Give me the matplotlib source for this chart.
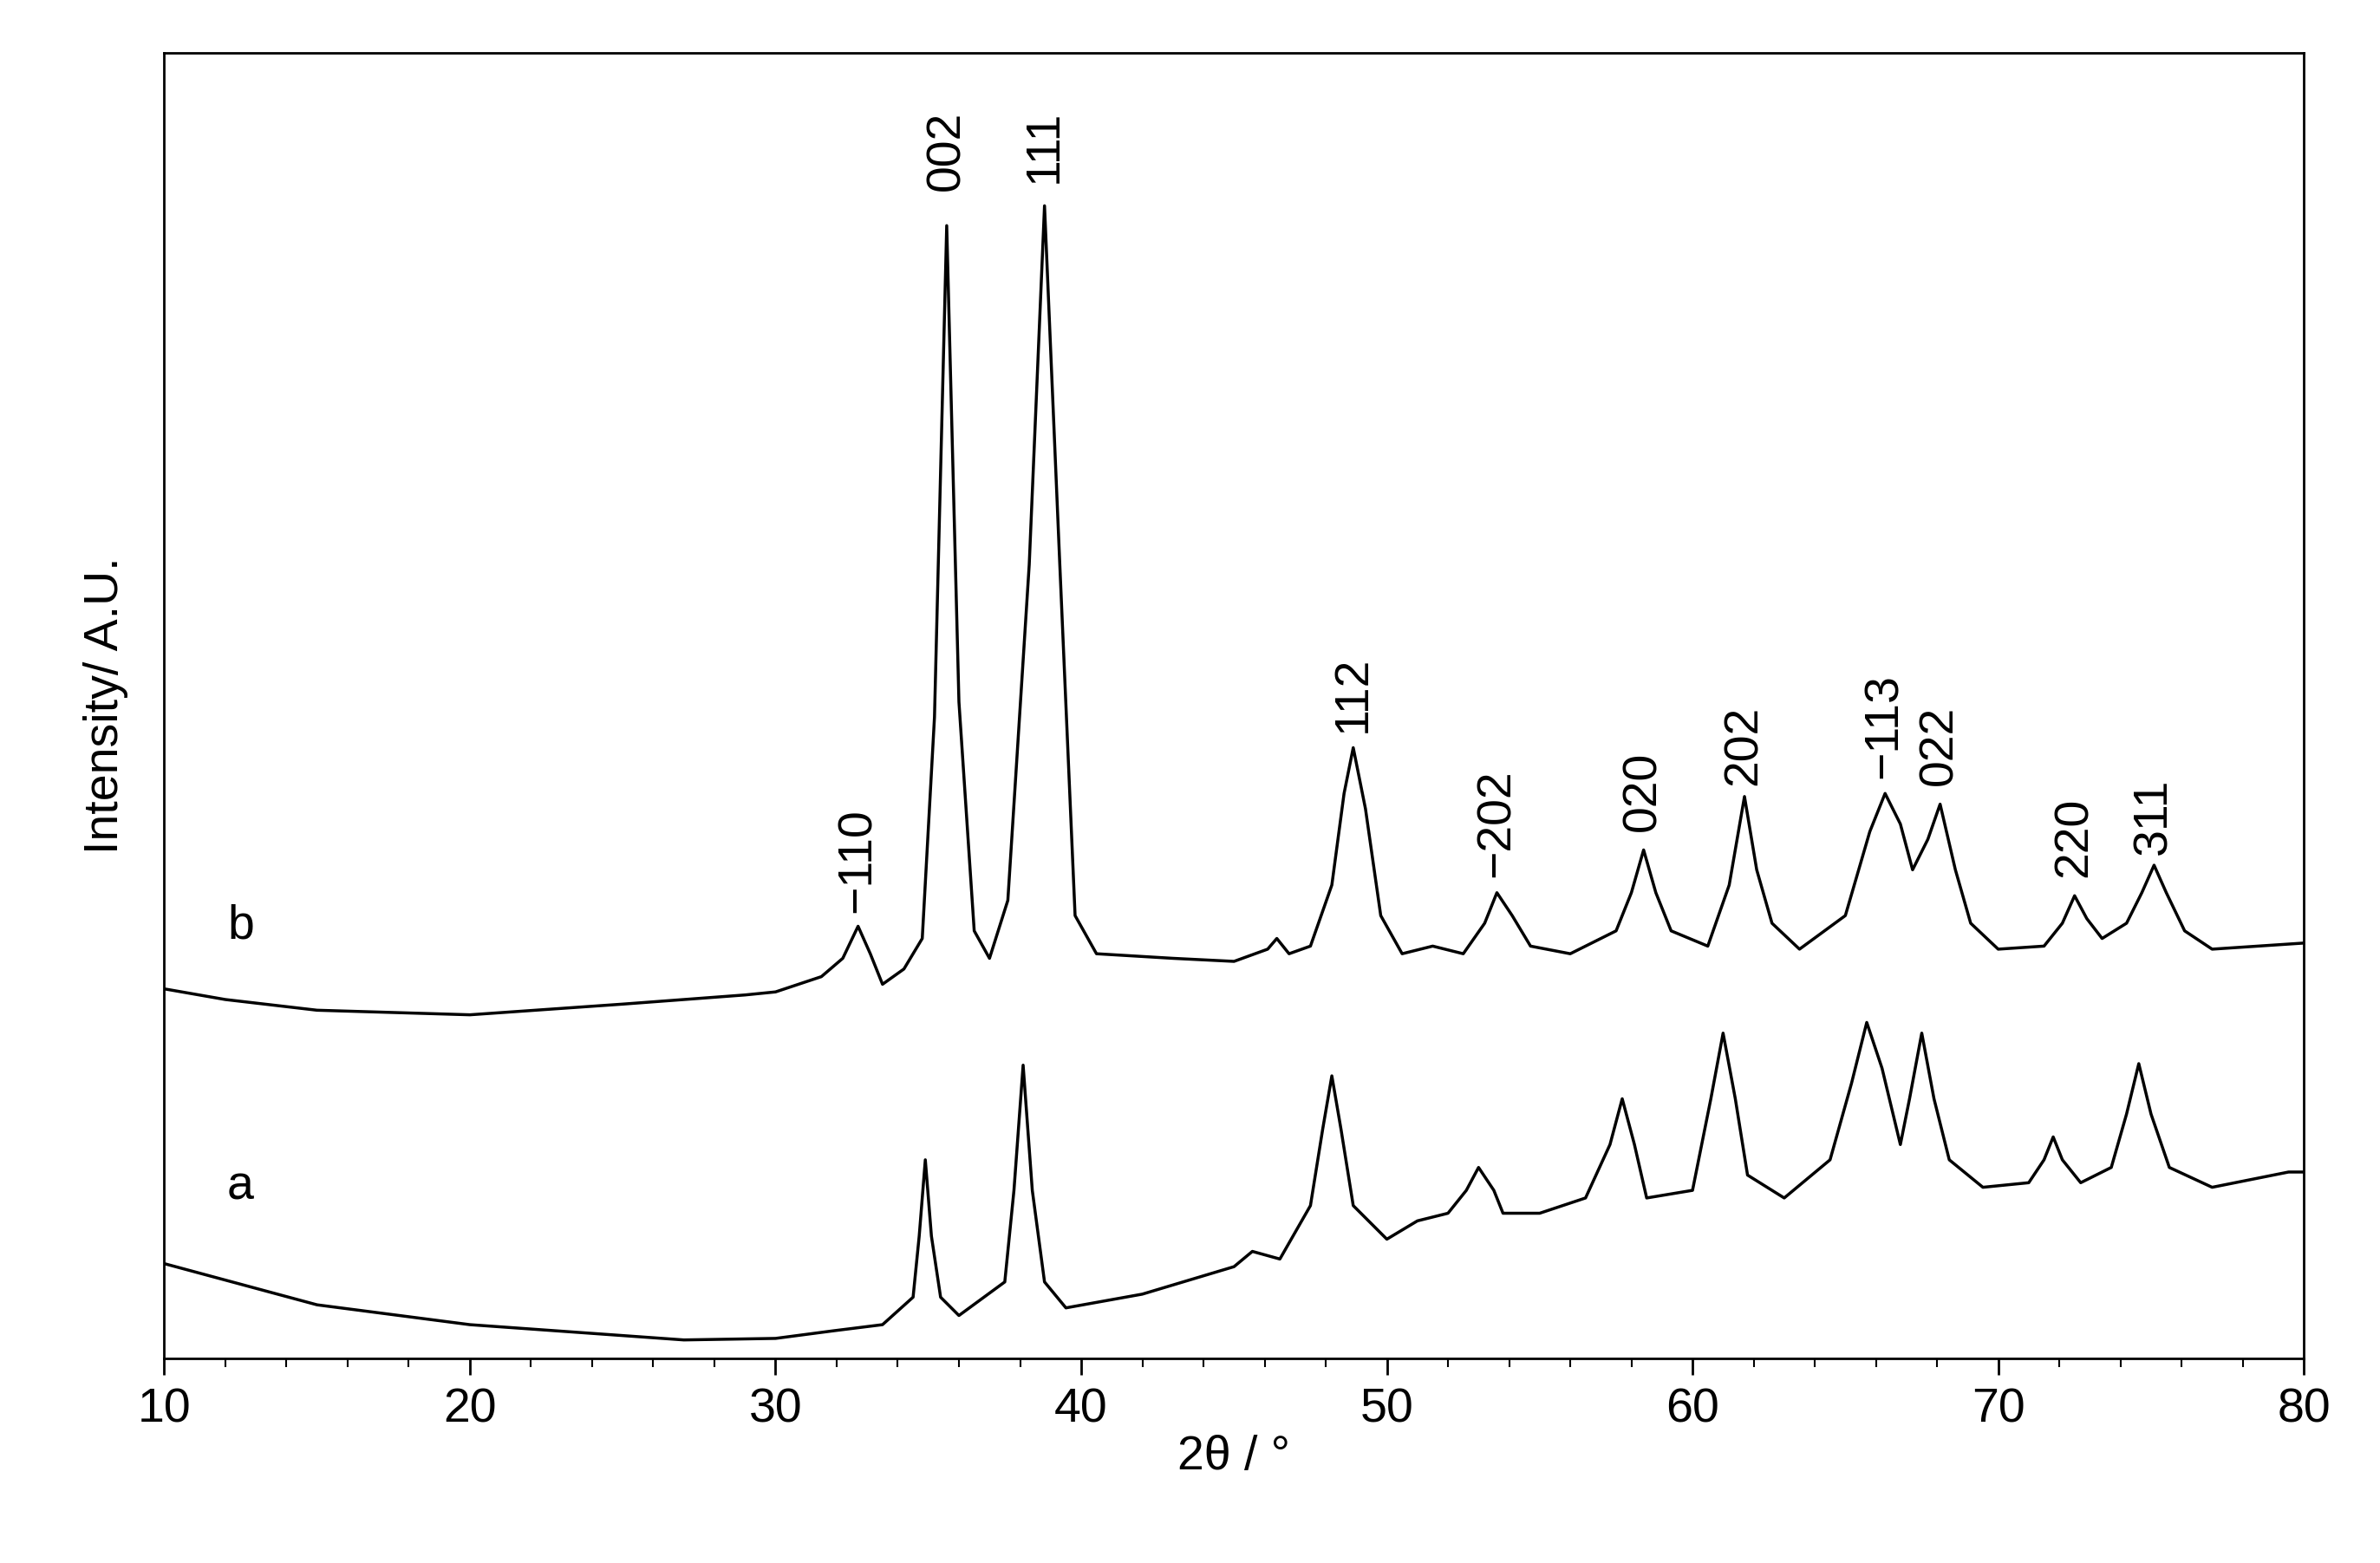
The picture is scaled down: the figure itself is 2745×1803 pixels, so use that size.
import matplotlib
matplotlib.use('Agg')
import matplotlib.pyplot as plt
from matplotlib.ticker import MultipleLocator

plt.rcParams['font.family'] = ['Liberation Sans', 'DejaVu Sans']

# key points (2theta, height in arbitrary units)
b_x = [10, 12, 15, 20, 25, 29, 30, 31.5, 32.2, 32.7, 33.1, 33.5, 34.2, 34.8, 35.2, 35.6, 36.0, 36.5, 37.0,
       37.6, 38.3, 38.8, 39.3, 39.8, 40.5, 43, 45, 46.1, 46.4, 46.8, 47.5, 48.2, 48.6, 48.9, 49.3, 49.8, 50.5,
       51.5, 52.5, 53.2, 53.6, 54.1, 54.7, 56, 57.5, 58.0, 58.4, 58.8, 59.3, 60.5, 61.2, 61.7, 62.1, 62.6,
       63.5, 65, 65.8, 66.3, 66.8, 67.2, 67.7, 68.1, 68.6, 69.1, 70, 71.5, 72.1, 72.5, 72.9, 73.4, 74.2, 74.7,
       75.1, 75.5, 76.1, 77, 80]
b_y = [242, 235, 228, 225, 232, 238, 240, 250, 262, 283, 265, 245, 255, 275, 420, 742, 430, 280, 262,
       300, 520, 755, 520, 290, 265, 262, 260, 268, 275, 265, 270, 310, 370, 400, 360, 290, 265,
       270, 265, 285, 305, 290, 270, 265, 280, 305, 333, 305, 280, 270, 310, 368, 320, 285,
       268, 290, 345, 370, 350, 320, 340, 363, 320, 285, 268, 270, 285, 303, 288, 275, 285, 305,
       323, 305, 280, 268, 272]

a_x = [10, 15, 20, 27, 30, 31.9, 33.5, 34.5, 34.7, 34.9, 35.1, 35.4, 36, 37.5, 37.8, 38.1, 38.4, 38.8,
       39.5, 42, 45, 45.6, 46.5, 47.5, 47.9, 48.2, 48.5, 48.9, 50, 51, 52, 52.6, 53, 53.5, 53.8, 55, 56.5,
       57.3, 57.7, 58.1, 58.5, 60, 60.6, 61, 61.4, 61.8, 63, 64.5, 65.2, 65.7, 66.2, 66.8, 67.1, 67.5, 67.9,
       68.4, 69.5, 71, 71.5, 71.8, 72.1, 72.7, 73.7, 74.2, 74.6, 75.0, 75.6, 77, 79.5, 80]
a_y = [62, 35, 22, 12, 13, 18, 22, 40, 80, 130, 80, 40, 28, 50, 110, 192, 110, 50,
       33, 42, 60, 70, 65, 100, 150, 185, 150, 100, 78, 90, 95, 110, 125, 110, 95, 95, 105,
       140, 170, 140, 105, 110, 170, 213, 170, 120, 105, 130, 180, 220, 190, 140, 170, 213, 170,
       130, 112, 115, 130, 145, 130, 115, 125, 160, 193, 160, 125, 112, 122, 122]

hkl = ['\u2212110', '002', '111', '112', '\u2212202', '020', '202', '\u2212113', '022', '220', '311']
hkl_x = [32.7, 35.6, 38.8, 48.9, 53.6, 58.4, 61.7, 66.3, 68.1, 72.5, 75.1]
hkl_y = [292, 765, 770, 410, 315, 345, 375, 380, 375, 315, 330]

fig = plt.figure(figsize=(27.45, 18.03), dpi=100)
ax = fig.add_axes([0.069, 0.131, 0.899, 0.835])

ax.plot(b_x, b_y, color='black', linewidth=2.5)
ax.plot(a_x, a_y, color='black', linewidth=2.5)

for lab, x, y in zip(hkl, hkl_x, hkl_y):
    ax.text(x, y, lab, rotation=90, ha='center', va='bottom', fontsize=40)

ax.text(12.5, 283, 'b', ha='center', va='center', fontsize=40)
ax.text(12.5, 112, 'a', ha='center', va='center', fontsize=40)

ax.set_xlim(10, 80)
ax.set_ylim(0, 855)
ax.xaxis.set_major_locator(MultipleLocator(10))
ax.xaxis.set_minor_locator(MultipleLocator(2))
ax.tick_params(axis='x', which='major', direction='out', length=14, width=2, labelsize=40, pad=10)
ax.tick_params(axis='x', which='minor', direction='out', length=7, width=1.5)
ax.set_yticks([])
for s in ax.spines.values():
    s.set_linewidth(2)

ax.set_xlabel('2\u03b8 / \u00b0', fontsize=40, labelpad=2)
ax.set_ylabel('Intensity/ A.U.', fontsize=40, labelpad=30)

fig.savefig('out.png', dpi=100)
